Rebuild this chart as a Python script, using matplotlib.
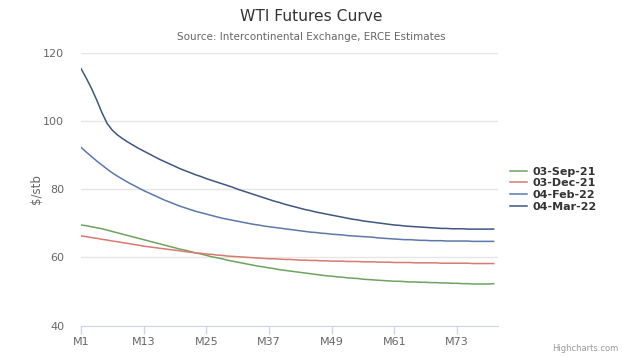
import matplotlib
matplotlib.use('Agg')
from matplotlib import pyplot as plt

# x轴类别 M1..M80
months = ['M' + str(i) for i in range(1, 81)]

sep21 = [69.5, 69.3, 69.0, 68.7, 68.4, 68.0, 67.6, 67.2, 66.8, 66.4,
         66.0, 65.6, 65.2, 64.8, 64.4, 64.0, 63.6, 63.2, 62.8, 62.4,
         62.1, 61.7, 61.3, 61.0, 60.6, 60.2, 59.9, 59.6, 59.2, 58.9,
         58.6, 58.3, 58.0, 57.7, 57.4, 57.2, 56.9, 56.7, 56.4, 56.2,
         56.0, 55.8, 55.6, 55.4, 55.2, 55.0, 54.8, 54.6, 54.5, 54.3,
         54.2, 54.0, 53.9, 53.8, 53.6, 53.5, 53.4, 53.3, 53.2, 53.1,
         53.0, 53.0, 52.9, 52.8, 52.8, 52.7, 52.7, 52.6, 52.6, 52.5,
         52.5, 52.4, 52.4, 52.3, 52.3, 52.2, 52.2, 52.2, 52.2, 52.3]

dec21 = [66.3, 66.1, 65.8, 65.6, 65.3, 65.1, 64.8, 64.6, 64.3, 64.1,
         63.8, 63.6, 63.3, 63.1, 62.9, 62.7, 62.5, 62.3, 62.1, 61.9,
         61.7, 61.5, 61.3, 61.2, 61.0, 60.9, 60.7, 60.6, 60.4, 60.3,
         60.2, 60.1, 60.0, 59.9, 59.8, 59.7, 59.6, 59.6, 59.5, 59.4,
         59.4, 59.3, 59.2, 59.2, 59.1, 59.1, 59.0, 59.0, 58.9, 58.9,
         58.9, 58.8, 58.8, 58.8, 58.7, 58.7, 58.7, 58.6, 58.6, 58.6,
         58.5, 58.5, 58.5, 58.5, 58.4, 58.4, 58.4, 58.4, 58.4, 58.3,
         58.3, 58.3, 58.3, 58.3, 58.3, 58.2, 58.2, 58.2, 58.2, 58.2]

feb22 = [92.3, 90.9, 89.6, 88.3, 87.1, 85.9, 84.8, 83.8, 82.9, 82.0,
         81.2, 80.4, 79.6, 78.9, 78.2, 77.5, 76.8, 76.2, 75.6, 75.0,
         74.5, 74.0, 73.5, 73.1, 72.7, 72.3, 71.9, 71.5, 71.2, 70.9,
         70.6, 70.3, 70.0, 69.7, 69.5, 69.2, 69.0, 68.8, 68.6, 68.4,
         68.2, 68.0, 67.8, 67.6, 67.4, 67.3, 67.1, 67.0, 66.8, 66.7,
         66.6, 66.4, 66.3, 66.2, 66.1, 66.0, 65.9, 65.7, 65.6, 65.5,
         65.4, 65.3, 65.2, 65.2, 65.1, 65.0, 65.0, 64.9, 64.9, 64.9,
         64.8, 64.8, 64.8, 64.8, 64.8, 64.7, 64.7, 64.7, 64.7, 64.7]

mar22 = [115.4, 112.6, 109.6, 106.2, 102.5, 99.3, 97.3, 95.9, 94.8, 93.8,
         92.9, 92.0, 91.2, 90.4, 89.6, 88.8, 88.1, 87.4, 86.7, 86.0,
         85.4, 84.8, 84.2, 83.7, 83.1, 82.6, 82.1, 81.6, 81.1, 80.6,
         80.0, 79.5, 79.0, 78.5, 78.0, 77.5, 77.0, 76.5, 76.1, 75.6,
         75.2, 74.8, 74.4, 74.0, 73.7, 73.3, 73.0, 72.7, 72.4, 72.1,
         71.8, 71.5, 71.2, 71.0, 70.7, 70.5, 70.3, 70.1, 69.9, 69.7,
         69.5, 69.4, 69.2, 69.1, 69.0, 68.9, 68.8, 68.7, 68.6, 68.5,
         68.5, 68.4, 68.4, 68.4, 68.3, 68.3, 68.3, 68.3, 68.3, 68.3]

series_names = ['03-Sep-21', '03-Dec-21', '04-Feb-22', '04-Mar-22']
colors = ['#6ea35f', '#d97a70', '#5b78a8', '#3f5680']

fig = plt.figure(figsize=(6.23, 3.57), dpi=100)
ax = fig.add_axes([0.130, 0.088, 0.669, 0.764])

x = list(range(len(months)))
for ys, name, c in zip([sep21, dec21, feb22, mar22], series_names, colors):
    ax.plot(x, ys, color=c, lw=1.1, label=name)

ax.set_xlim(0, 79.8)
ax.set_ylim(40, 120)
ax.set_yticks([40, 60, 80, 100, 120])
ax.set_xticks(x[::12])
ax.set_xticklabels(months[::12])

# 网格和坐标轴样式
ax.grid(axis='y', color='#e6e6e6', lw=1)
ax.set_axisbelow(True)
for side in ['top', 'right', 'left']:
    ax.spines[side].set_visible(False)
ax.spines['bottom'].set_color('#ccd6eb')
ax.tick_params(axis='x', colors='#ccd6eb', length=6, width=1, labelcolor='#666666', labelsize=8, pad=2)
ax.tick_params(axis='y', length=0, labelcolor='#666666', labelsize=8, pad=12)
ax.set_ylabel('$/stb', color='#666666', fontsize=8.5)
ax.yaxis.set_label_coords(-0.092, 0.5)

fig.text(0.5, 0.955, 'WTI Futures Curve', ha='center', va='center', fontsize=11.2, color='#333333')
fig.text(0.5, 0.896, 'Source: Intercontinental Exchange, ERCE Estimates', ha='center', va='center',
         fontsize=7.5, color='#666666')
fig.text(0.992, 0.025, 'Highcharts.com', ha='right', va='center', fontsize=6, color='#999999')

leg = ax.legend(loc='center left', bbox_to_anchor=(1.005, 0.5), frameon=False,
                handlelength=1.5, handletextpad=0.5, labelspacing=0.15, prop={'weight': 'bold', 'size': 8})
for t in leg.get_texts():
    t.set_color('#333333')

plt.savefig('out.png', dpi=100)
